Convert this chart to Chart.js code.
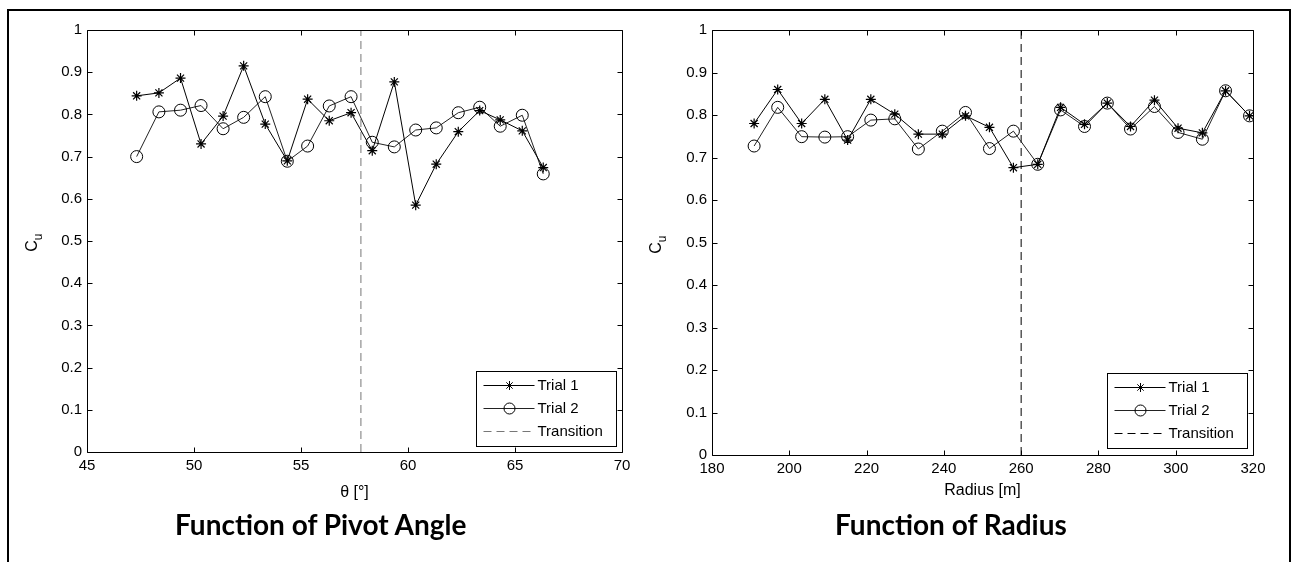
<!DOCTYPE html>
<html>
<head>
<meta charset="utf-8">
<script src="https://cdn.jsdelivr.net/npm/chart.js@4.4.0/dist/chart.umd.min.js"></script>
<style>
  body { margin: 0; background: #fff; width: 1297px; height: 562px; overflow: hidden; position: relative; }
  #frame { position: absolute; left: 7px; top: 9px; width: 1280px; height: 700px; border: 2px solid #000; }
  .wrap { position: absolute; top: 0; height: 512px; }
  #w1 { left: 0; width: 640px; }
  #w2 { left: 640px; width: 657px; }
  .title { position: absolute; top: 507px; font: bold 28px Lato, "Open Sans", sans-serif; line-height: 34px; color: #000; white-space: nowrap; }
</style>
</head>
<body>
<div id="frame"></div>
<div class="wrap" id="w1"><canvas id="angleChart"></canvas></div>
<div class="wrap" id="w2"><canvas id="radiusChart"></canvas></div>
<div class="title" style="left:175px">Function of Pivot Angle</div>
<div class="title" style="left:835px">Function of Radius</div>
<script>
// pivot angle plot
const pivotAngle = [47.32, 48.36, 49.37, 50.33, 51.36, 52.32, 53.33, 54.36, 55.31, 56.32, 57.34, 58.33, 59.36, 60.36, 61.32, 62.35, 63.35, 64.31, 65.34, 66.32];
const angleTrial1 = [0.844, 0.851, 0.886, 0.730, 0.796, 0.915, 0.777, 0.690, 0.836, 0.785, 0.804, 0.714, 0.877, 0.585, 0.682, 0.759, 0.809, 0.787, 0.761, 0.674];
const angleTrial2 = [0.700, 0.806, 0.810, 0.821, 0.766, 0.793, 0.842, 0.689, 0.725, 0.820, 0.842, 0.734, 0.723, 0.763, 0.768, 0.804, 0.817, 0.772, 0.798, 0.659];
const angleTransition = 57.8;
const angleTicks = [45, 50, 55, 60, 65, 70];

// radius plot
const radius = [190.9, 197.0, 203.2, 209.2, 215.1, 221.1, 227.3, 233.4, 239.6, 245.6, 251.8, 258.0, 264.3, 270.2, 276.4, 282.3, 288.3, 294.5, 300.6, 306.9, 312.9, 319.1];
const radiusTrial1 = [0.780, 0.860, 0.780, 0.837, 0.741, 0.837, 0.802, 0.755, 0.755, 0.798, 0.771, 0.676, 0.684, 0.818, 0.778, 0.828, 0.773, 0.835, 0.769, 0.758, 0.857, 0.798];
const radiusTrial2 = [0.727, 0.818, 0.749, 0.748, 0.749, 0.788, 0.791, 0.720, 0.762, 0.806, 0.721, 0.762, 0.684, 0.812, 0.773, 0.828, 0.767, 0.820, 0.759, 0.743, 0.857, 0.798];
const radiusTransition = 260;
const radiusTicks = [180, 200, 220, 240, 260, 280, 300, 320];

const cuTicks = [0, 0.1, 0.2, 0.3, 0.4, 0.5, 0.6, 0.7, 0.8, 0.9, 1];

const tickFont = { family: '"Liberation Sans", Arial, sans-serif', size: 15 };
const titleFont = { family: '"Liberation Sans", Arial, sans-serif', size: 16 };

function pts(xs, ys) {
  return xs.map((x, i) => ({ x: x, y: ys[i] }));
}

// matlab style box, inward ticks, C_u label and legend
const matlabBox = {
  id: 'matlabBox',
  afterDraw(chart) {
    const ctx = chart.ctx;
    const a = chart.chartArea;
    const o = chart.options.plugins.matlabBox;
    const xs = chart.scales.x, ys = chart.scales.y;
    ctx.save();
    ctx.strokeStyle = '#000';
    ctx.lineWidth = 1;
    const L = Math.round(a.left) + 0.5, R = Math.round(a.right) + 0.5;
    const T = Math.round(a.top) + 0.5, B = Math.round(a.bottom) + 0.5;
    ctx.beginPath();
    ctx.rect(L, T, R - L, B - T);
    xs.ticks.forEach(t => {
      const px = Math.round(xs.getPixelForValue(t.value)) + 0.5;
      ctx.moveTo(px, B); ctx.lineTo(px, B - 5);
      ctx.moveTo(px, T); ctx.lineTo(px, T + 5);
    });
    ys.ticks.forEach(t => {
      const py = Math.round(ys.getPixelForValue(t.value)) + 0.5;
      ctx.moveTo(L, py); ctx.lineTo(L + 5, py);
      ctx.moveTo(R, py); ctx.lineTo(R - 5, py);
    });
    ctx.stroke();

    // y axis title C_u
    ctx.save();
    ctx.translate(o.cuX, o.cuY);
    ctx.rotate(-Math.PI / 2);
    ctx.fillStyle = '#000';
    ctx.textBaseline = 'middle';
    ctx.textAlign = 'left';
    ctx.font = '16px "Liberation Sans", Arial, sans-serif';
    const cw = ctx.measureText('C').width;
    ctx.fillText('C', -cw / 2 - 3, 0);
    ctx.font = '12px "Liberation Sans", Arial, sans-serif';
    ctx.fillText('u', cw / 2 - 3, 6);
    ctx.restore();

    // legend box
    const bw = 140, bh = 75;
    const bx = Math.round(a.right - 6 - bw) + 0.5;
    const by = Math.round(a.bottom - o.legendGap - bh) + 0.5;
    ctx.fillStyle = '#fff';
    ctx.fillRect(bx, by, bw, bh);
    ctx.strokeStyle = '#000';
    ctx.setLineDash([]);
    ctx.strokeRect(bx, by, bw, bh);
    const rows = [14, 37, 60];
    chart.data.datasets.forEach((ds, i) => {
      const ry = by + rows[i];
      ctx.save();
      ctx.strokeStyle = ds.borderColor;
      ctx.lineWidth = 1;
      ctx.setLineDash(ds.borderDash || []);
      ctx.beginPath();
      ctx.moveTo(bx + 7, ry);
      ctx.lineTo(bx + 58, ry);
      ctx.stroke();
      ctx.setLineDash([]);
      if (ds.pointRadius > 0) {
        ctx.strokeStyle = ds.pointBorderColor || ds.borderColor;
        ctx.fillStyle = 'rgba(0,0,0,0)';
        Chart.helpers.drawPoint(ctx, { pointStyle: ds.pointStyle, radius: ds.legendRadius, rotation: 0, borderWidth: 1 }, bx + 33, ry);
      }
      ctx.fillStyle = '#000';
      ctx.font = '15px "Liberation Sans", Arial, sans-serif';
      ctx.textBaseline = 'middle';
      ctx.textAlign = 'left';
      ctx.fillText(ds.label, bx + 61, ry);
      ctx.restore();
    });
    ctx.restore();
  }
};

function makeChart(id, cfg) {
  return new Chart(document.getElementById(id), {
    type: 'scatter',
    data: {
      datasets: [
        {
          label: 'Trial 1',
          data: pts(cfg.x, cfg.t1),
          showLine: true,
          borderColor: '#000',
          borderWidth: 1,
          pointStyle: 'star',
          pointRadius: 5,
          legendRadius: 4.5,
          pointBorderWidth: 1.2,
          pointBorderColor: '#000',
          backgroundColor: 'rgba(0,0,0,0)'
        },
        {
          label: 'Trial 2',
          data: pts(cfg.x, cfg.t2),
          showLine: true,
          borderColor: '#222',
          borderWidth: 1,
          pointStyle: 'circle',
          pointRadius: 6,
          legendRadius: 5.5,
          pointBorderWidth: 1,
          pointBorderColor: '#000',
          backgroundColor: 'rgba(0,0,0,0)'
        },
        {
          label: 'Transition',
          data: [{ x: cfg.trans, y: 0 }, { x: cfg.trans, y: 1 }],
          showLine: true,
          borderColor: cfg.transColor,
          borderWidth: 1,
          borderDash: [8, 5],
          pointRadius: 0,
          backgroundColor: 'rgba(0,0,0,0)'
        }
      ]
    },
    options: {
      responsive: true,
      maintainAspectRatio: false,
      animation: false,
      layout: { padding: { left: 0, top: 30, right: cfg.padRight, bottom: cfg.padBottom } },
      plugins: {
        legend: { display: false },
        tooltip: { enabled: false },
        matlabBox: { cuX: cfg.cuX, cuY: cfg.cuY, legendGap: cfg.legendGap }
      },
      scales: {
        x: {
          type: 'linear',
          min: cfg.ticks[0],
          max: cfg.ticks[cfg.ticks.length - 1],
          afterBuildTicks: s => { s.ticks = cfg.ticks.map(v => ({ value: v })); },
          afterFit: s => { s.height = 50; },
          grid: { display: false, drawTicks: false },
          border: { display: false },
          ticks: { color: '#000', font: tickFont, padding: 5, maxRotation: 0, autoSkip: false },
          title: { display: true, text: cfg.xTitle, color: '#000', font: titleFont, padding: { top: 0, bottom: cfg.titlePad } }
        },
        y: {
          type: 'linear',
          min: 0,
          max: 1,
          afterBuildTicks: s => { s.ticks = cuTicks.map(v => ({ value: v })); },
          afterFit: s => { s.width = cfg.yWidth; },
          grid: { display: false, drawTicks: false },
          border: { display: false },
          ticks: { color: '#000', font: tickFont, padding: 5, autoSkip: false, callback: v => String(Math.round(v * 10) / 10) }
        }
      }
    },
    plugins: [matlabBox]
  });
}

makeChart('angleChart', {
  x: pivotAngle, t1: angleTrial1, t2: angleTrial2,
  trans: angleTransition, transColor: '#777',
  ticks: angleTicks, xTitle: 'θ [°]',
  padRight: 18, padBottom: 10, yWidth: 87, titlePad: 0,
  cuX: 33, cuY: 243, legendGap: 6
});

makeChart('radiusChart', {
  x: radius, t1: radiusTrial1, t2: radiusTrial2,
  trans: radiusTransition, transColor: '#000',
  ticks: radiusTicks, xTitle: 'Radius [m]',
  padRight: 44, padBottom: 7, yWidth: 72, titlePad: 5,
  cuX: 17, cuY: 245, legendGap: 7
});
</script>
</body>
</html>
